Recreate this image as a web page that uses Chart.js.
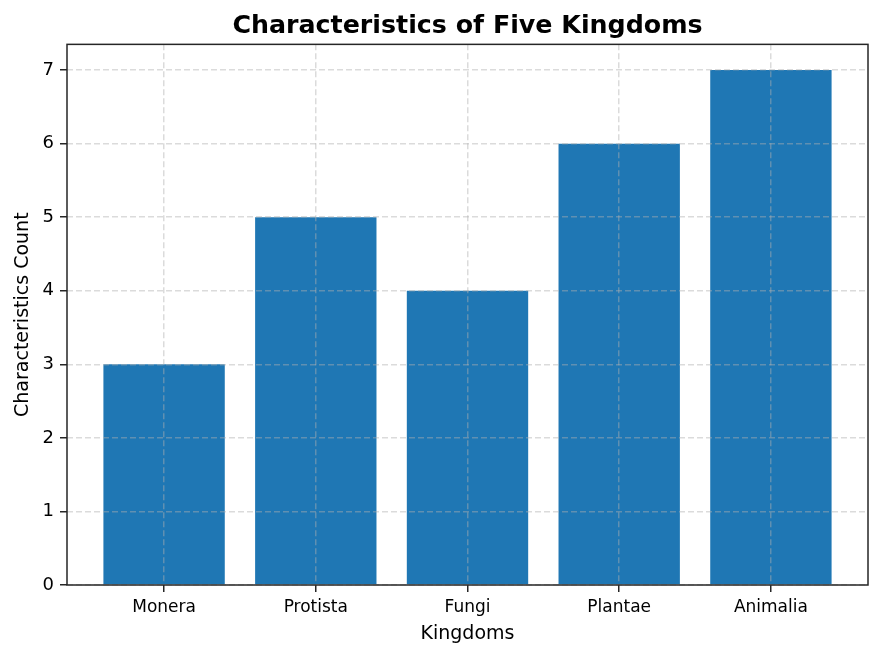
<!DOCTYPE html>
<html>
<head>
<meta charset="utf-8">
<title>Characteristics of Five Kingdoms</title>
<script src="https://cdn.jsdelivr.net/npm/chart.js@4"></script>
<style>
  html, body { margin: 0; padding: 0; background: #fff; }
  canvas { display: block; }
</style>
</head>
<body>
<canvas id="kingdoms-chart" width="882" height="657"></canvas>
<script>
// Chart data
const kingdoms = ['Monera', 'Protista', 'Fungi', 'Plantae', 'Animalia'];
const characteristicCounts = [3, 5, 4, 6, 7];
const yTickValues = [0, 1, 2, 3, 4, 5, 6, 7];

const FONT = "'DejaVu Sans', sans-serif";
const gridColor = 'rgba(176, 176, 176, 0.45)';

// Draw the full box around the plot area (matplotlib spines),
// and center the title over the plot area rather than the canvas
const frame = {
  id: 'frame',
  afterLayout(chart) {
    if (chart.titleBlock) {
      chart.titleBlock.left = chart.chartArea.left;
      chart.titleBlock.right = chart.chartArea.right;
    }
  },
  afterDraw(chart) {
    const { ctx, chartArea: a } = chart;
    ctx.save();
    ctx.strokeStyle = '#262626';
    ctx.lineWidth = 1.5;
    ctx.strokeRect(a.left, a.top, a.right - a.left, a.bottom - a.top);
    ctx.restore();
  }
};

const gridOpts = {
  z: 1,
  offset: false,
  color: gridColor,
  lineWidth: 1.5,
  tickLength: 7,
  tickColor: '#262626',
  tickWidth: 1.5,
  tickBorderDash: []
};

new Chart(document.getElementById('kingdoms-chart'), {
  type: 'bar',
  data: {
    datasets: [{
      data: characteristicCounts.map((v, i) => ({ x: i, y: v })),
      backgroundColor: '#1f77b4',
      borderWidth: 0,
      barPercentage: 0.8,
      categoryPercentage: 1.0
    }]
  },
  options: {
    responsive: false,
    animation: false,
    devicePixelRatio: 1,
    layout: { padding: { left: 0, right: 14, top: 0, bottom: 0 } },
    plugins: {
      legend: { display: false },
      tooltip: { enabled: false },
      title: {
        display: true,
        text: 'Characteristics of Five Kingdoms',
        color: '#000',
        font: { family: FONT, size: 25.3, weight: 'bold' },
        padding: { top: 11, bottom: 3 }
      }
    },
    scales: {
      x: {
        type: 'linear',
        offset: false,
        min: -0.64,
        max: 4.64,
        afterBuildTicks: s => { s.ticks = kingdoms.map((_, i) => ({ value: i })); },
        afterFit: s => { s.height = 72; },
        ticks: {
          color: '#000',
          font: { family: FONT, size: 17 },
          padding: 5,
          maxRotation: 0,
          callback: v => kingdoms[v]
        },
        grid: gridOpts,
        border: { display: false, dash: [6, 3] },
        title: {
          display: true,
          text: 'Kingdoms',
          color: '#000',
          font: { family: FONT, size: 19 },
          padding: { top: 0, bottom: 12 }
        }
      },
      y: {
        min: 0,
        max: 7.35,
        afterBuildTicks: s => { s.ticks = yTickValues.map(v => ({ value: v })); },
        afterFit: s => { s.width = 67; },
        ticks: {
          color: '#000',
          font: { family: FONT, size: 18 },
          padding: 6
        },
        grid: gridOpts,
        border: { display: false, dash: [6, 3] },
        title: {
          display: true,
          text: 'Characteristics Count',
          color: '#000',
          font: { family: FONT, size: 19 },
          padding: { top: 12, bottom: 0 }
        }
      }
    }
  },
  plugins: [frame]
});
</script>
</body>
</html>
